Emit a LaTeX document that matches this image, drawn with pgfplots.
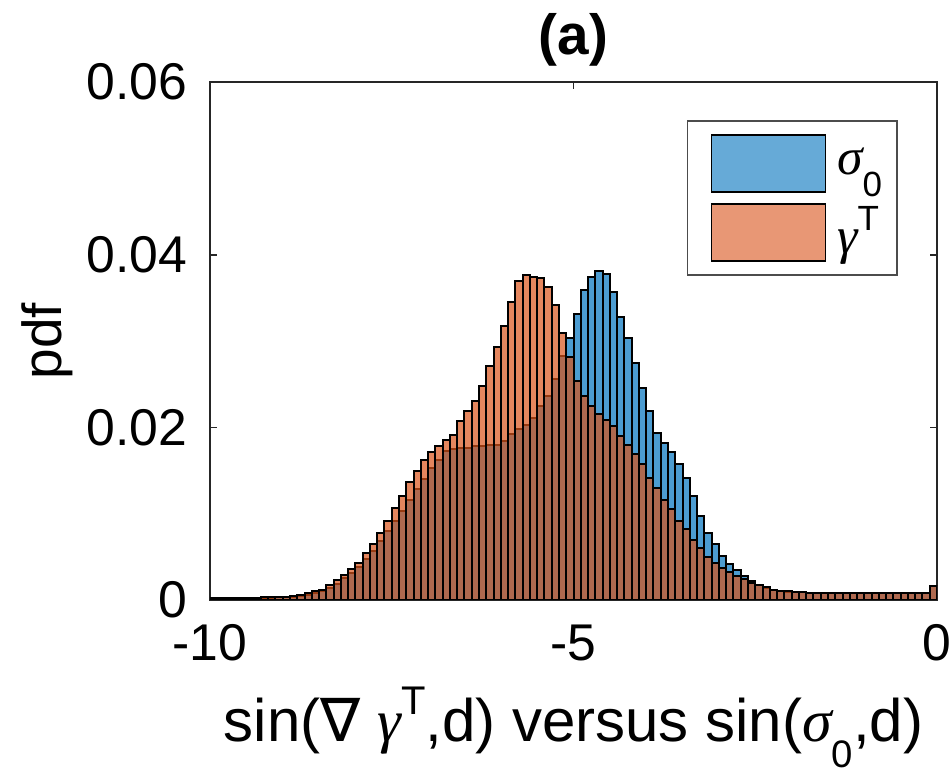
\documentclass[border=0pt]{standalone}
\usepackage{pgfplots}
\pgfplotsset{compat=1.18}
\usepackage{pgfplotstable}
\usepackage{fontspec}
\setmainfont{Liberation Sans}
\newfontfamily\grk{Liberation Serif}
\newfontfamily\nablafont{DejaVu Sans}
\definecolor{mblue}{RGB}{0,114,189}
\definecolor{morange}{RGB}{217,83,25}
\newcommand{\gsub}[2]{\raisebox{-0.42em}{\fontsize{#1}{#1}\selectfont #2}}
\newcommand{\gsup}[2]{\raisebox{0.45em}{\fontsize{#1}{#1}\selectfont #2}}
\pgfplotsset{
  bluelegend/.style={legend image code/.code={\path (-2.4pt,0pt); \draw[fill=mblue,fill opacity=0.6,draw=black,line width=0.5pt] (0pt,-8.55pt) rectangle (34.2pt,8.55pt);}},
  orangelegend/.style={legend image code/.code={\path (-2.4pt,0pt); \draw[fill=morange,fill opacity=0.6,draw=black,line width=0.5pt] (0pt,-8.55pt) rectangle (34.2pt,8.55pt);}},
}
\pgfplotstableread{
x b o
-10.0 0.0002 0.0002
-9.9 0.0002 0.0002
-9.8 0.0002 0.0002
-9.7 0.0002 0.0002
-9.6 0.0002 0.0002
-9.5 0.0002 0.0002
-9.4 0.0002 0.0002
-9.3 0.0002 0.0003
-9.2 0.0002 0.0003
-9.1 0.0003 0.0003
-9.0 0.0003 0.0004
-8.9 0.0004 0.0005
-8.8 0.0005 0.0006
-8.7 0.0006 0.0008
-8.6 0.0008 0.0010
-8.5 0.0010 0.0012
-8.4 0.0014 0.0017
-8.3 0.0019 0.0023
-8.2 0.0025 0.0029
-8.1 0.0031 0.0036
-8.0 0.0038 0.0043
-7.9 0.0047 0.0054
-7.8 0.0057 0.0065
-7.7 0.0068 0.0078
-7.6 0.0080 0.0092
-7.5 0.0092 0.0107
-7.4 0.0103 0.0121
-7.3 0.0116 0.0137
-7.2 0.0129 0.0150
-7.1 0.0140 0.0162
-7.0 0.0153 0.0171
-6.9 0.0162 0.0178
-6.8 0.0173 0.0185
-6.7 0.0175 0.0191
-6.6 0.0176 0.0207
-6.5 0.0176 0.0219
-6.4 0.0178 0.0231
-6.3 0.0178 0.0248
-6.2 0.0179 0.0271
-6.1 0.0180 0.0293
-6.0 0.0184 0.0317
-5.9 0.0192 0.0345
-5.8 0.0198 0.0369
-5.7 0.0203 0.0377
-5.6 0.0211 0.0374
-5.5 0.0225 0.0373
-5.4 0.0236 0.0363
-5.3 0.0256 0.0342
-5.2 0.0283 0.0309
-5.1 0.0304 0.0281
-5.0 0.0331 0.0254
-4.9 0.0359 0.0236
-4.8 0.0374 0.0225
-4.7 0.0381 0.0215
-4.6 0.0378 0.0209
-4.5 0.0357 0.0202
-4.4 0.0328 0.0190
-4.3 0.0304 0.0180
-4.2 0.0275 0.0169
-4.1 0.0246 0.0157
-4.0 0.0219 0.0141
-3.9 0.0194 0.0130
-3.8 0.0182 0.0116
-3.7 0.0171 0.0105
-3.6 0.0157 0.0092
-3.5 0.0141 0.0082
-3.4 0.0120 0.0070
-3.3 0.0097 0.0060
-3.2 0.0078 0.0050
-3.1 0.0065 0.0043
-3.0 0.0051 0.0037
-2.9 0.0042 0.0033
-2.8 0.0035 0.0028
-2.7 0.0028 0.0024
-2.6 0.0022 0.0020
-2.5 0.0017 0.0017
-2.4 0.0014 0.0015
-2.3 0.0012 0.0012
-2.2 0.0010 0.0011
-2.1 0.0009 0.0010
-2.0 0.0009 0.0009
-1.9 0.0009 0.0009
-1.8 0.0008 0.0008
-1.7 0.0008 0.0008
-1.6 0.0008 0.0008
-1.5 0.0008 0.0008
-1.4 0.0008 0.0008
-1.3 0.0008 0.0008
-1.2 0.0008 0.0008
-1.1 0.0008 0.0008
-1.0 0.0008 0.0008
-0.9 0.0008 0.0008
-0.8 0.0008 0.0008
-0.7 0.0008 0.0008
-0.6 0.0008 0.0008
-0.5 0.0008 0.0008
-0.4 0.0008 0.0008
-0.3 0.0008 0.0008
-0.2 0.0008 0.0008
-0.1 0.0016 0.0016
0.0 0 0
}\histdata
\begin{document}
\begin{tikzpicture}
\useasboundingbox (-63pt,-52.2pt) rectangle (222.6pt,180pt);
\begin{axis}[
  at={(0pt,0pt)}, anchor=south west,
  width=218.1pt, height=155.4pt, scale only axis,
  xmin=-10, xmax=0, ymin=0, ymax=0.06,
  scaled x ticks=false, scaled y ticks=false,
  xtick={-10,-5,0}, xticklabels={-10,-5,0},
  ytick={0,0.02,0.04,0.06}, yticklabels={0,0.02,0.04,0.06},
  tick align=inside,
  major tick length=2.1pt,
  axis line style={black!85, line width=0.6pt},
  tick style={black!85, line width=0.5pt},
  tick label style={font=\fontsize{15.5}{18}\selectfont, inner sep=0pt},
  xticklabel style={anchor=north, yshift=-7.2pt},
  yticklabel style={anchor=east, xshift=-6.6pt},
  every axis title shift=0pt,
  title={(a)},
  title style={at={(axis description cs:0.5,1)}, anchor=south, inner sep=0pt, yshift=4.5pt, font=\fontsize{17}{20}\selectfont\bfseries},
  xlabel={sin({\nablafont ∇} {\grk\itshape γ}\gsup{12}{T},d) versus sin({\grk\itshape σ}\gsub{11.5}{0},d)},
  xlabel style={at={(axis description cs:0.5,0)}, anchor=base, yshift=-42.6pt, inner sep=0pt, font=\fontsize{18}{20}\selectfont},
  ylabel={pdf},
  ylabel style={at={(axis description cs:-0.2242,0.5)}, anchor=center, inner sep=0pt, font=\fontsize{16.5}{19}\selectfont},
  legend style={at={(0.9464,0.9266)}, anchor=north east, draw=black!70, line width=0.5pt,
    inner xsep=4.5pt, inner ysep=4pt, row sep=3pt, column sep=3.3pt,
    nodes={inner xsep=0pt, inner ysep=0pt},
    font=\fontsize{15.5}{18}\selectfont, cells={anchor=west}},
  legend cell align=left,
]
\addplot[ybar interval, fill=mblue, fill opacity=0.7, draw=black, line width=0.6pt, bluelegend] table[x=x, y=b] {\histdata};
\addlegendentry{{\grk\itshape σ}\gsub{10.5}{0}}
\addplot[ybar interval, fill=morange, fill opacity=0.7, draw=black, line width=0.6pt, orangelegend] table[x=x, y=o] {\histdata};
\addlegendentry{{\grk\itshape γ}\gsup{10.5}{T}}
\end{axis}
\end{tikzpicture}
\end{document}
